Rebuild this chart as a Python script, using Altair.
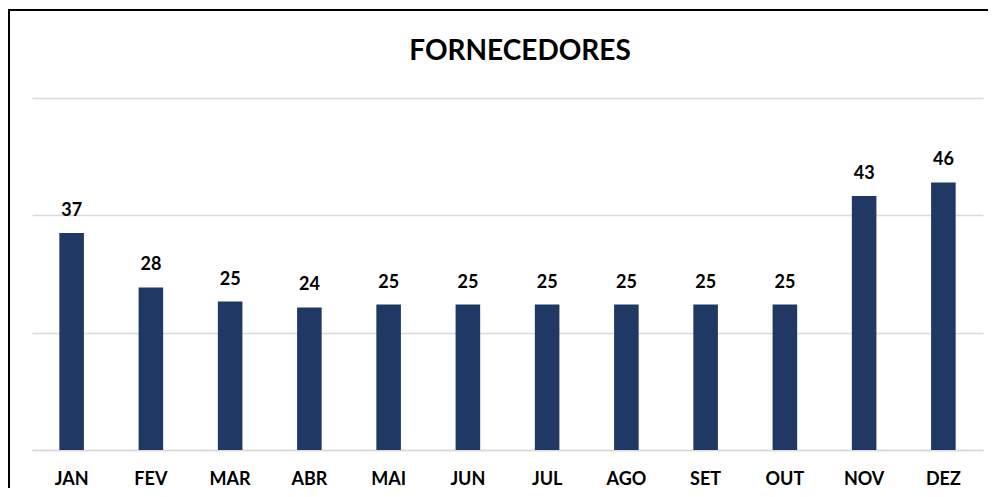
import altair as alt
import pandas as pd

meses = ["JAN", "FEV", "MAR", "ABR", "MAI", "JUN", "JUL", "AGO", "SET", "OUT", "NOV", "DEZ"]
valores = [37.0, 27.7, 25.3, 24.3, 24.8, 24.8, 24.8, 24.8, 24.8, 24.8, 43.3, 45.6]
titulo = "FORNECEDORES"

df = pd.DataFrame({"mes": meses, "valor": valores})

FONT = "Lato"
COR = "#203864"

x = alt.X("mes:N", sort=meses, title=None,
          scale=alt.Scale(paddingInner=0.69, paddingOuter=0.345),
          axis=alt.Axis(labelAngle=0, labelFont=FONT, labelFontSize=18, labelFontWeight="bold",
                        labelColor="#000000", labelBaseline="alphabetic", labelPadding=34.5,
                        ticks=False, tickSize=0, grid=False, domainColor="#d9d9d9", domainWidth=1.5))
y = alt.Y("valor:Q", title=None, scale=alt.Scale(domain=[0, 60], nice=False),
          axis=alt.Axis(values=[0, 20, 40, 60], labels=False, ticks=False, domain=False,
                        gridColor="#d9d9d9", gridWidth=1.5))

base = alt.Chart(df)
bars = base.mark_bar(color=COR).encode(x=x, y=y)
labels = base.mark_text(font=FONT, fontSize=18, fontWeight="bold", color="#000000",
                        baseline="alphabetic", dy=-17).encode(
    x=alt.X("mes:N", sort=meses), y="valor:Q", text=alt.Text("valor:Q", format=".0f"))

title_df = pd.DataFrame({"t": [titulo]})
title = alt.Chart(title_df).mark_text(font=FONT, fontSize=28, fontWeight="bold", color="#000000",
                                      baseline="alphabetic", align="center").encode(
    x=alt.value(488), y=alt.value(-38.5), text="t:N")

frame = alt.Chart(title_df).mark_rect(fill=None, stroke="#000000", strokeWidth=2).encode(
    x=alt.value(-23), x2=alt.value(1500), y=alt.value(-88), y2=alt.value(1500))

chart = alt.layer(bars, labels, title, frame).properties(
    width=951, height=352,
    padding={"left": 24, "top": 90, "right": 5, "bottom": 38},
    autosize=alt.AutoSizeParams(type="none"),
    background="#ffffff",
).configure_view(stroke=None)

chart.save("out.html", embed_options={"renderer": "svg", "actions": False})
